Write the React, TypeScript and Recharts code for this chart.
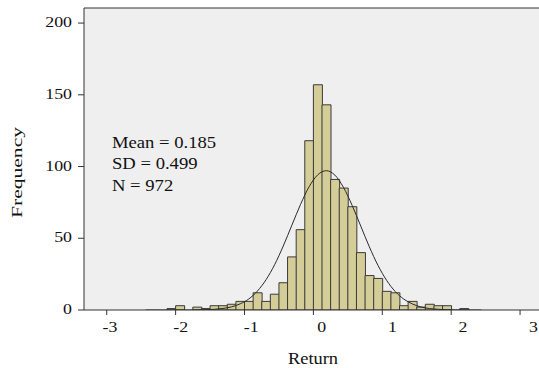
import React from 'react';
import {
  ComposedChart,
  Bar,
  Line,
  XAxis,
  YAxis,
  CartesianGrid,
  ReferenceLine,
  Customized,
} from 'recharts';

// Histogram bins (centres of 0.125-wide bins)
const binCenters = [
  -2.4375, -2.3125, -2.1875, -2.0625, -1.9375, -1.8125, -1.6875, -1.5625,
  -1.4375, -1.3125, -1.1875, -1.0625, -0.9375, -0.8125, -0.6875, -0.5625,
  -0.4375, -0.3125, -0.1875, -0.0625, 0.0625, 0.1875, 0.3125, 0.4375,
  0.5625, 0.6875, 0.8125, 0.9375, 1.0625, 1.1875, 1.3125, 1.4375,
  1.5625, 1.6875, 1.8125, 1.9375, 2.0625, 2.1875, 2.3125, 2.4375,
];

const frequencies = [
  0, 0, 0, 1, 3, 0, 2, 1,
  3, 3, 4, 6, 6, 12, 6, 11,
  19, 37, 56, 118, 157, 143, 91, 85,
  72, 40, 24, 22, 13, 12, 3, 6,
  2, 4, 3, 3, 0, 1, 0, 0,
];

// Fitted normal curve (frequency scale)
const normalCurve = [
  0, 0, 0, 0, 0, 0, 0.1, 0.2,
  0.5, 1.1, 2.2, 4.3, 7.7, 13.2, 21.1, 31.6,
  44.6, 59.1, 73.5, 85.9, 94.2, 97.1, 94.0, 85.4,
  72.9, 58.5, 44.0, 31.1, 20.7, 12.9, 7.6, 4.2,
  2.1, 1.0, 0.5, 0.2, 0.1, 0, 0, 0,
];

const xTicks = [-3, -2, -1, 0, 1, 2, 3];
const yTicks = [0, 50, 100, 150, 200];
const statLines = ['Mean = 0.185', 'SD = 0.499', 'N = 972'];

const data = binCenters.map((x, i) => ({
  x,
  count: frequencies[i],
  curve: normalCurve[i],
}));

const FONT = '"Liberation Serif", "Times New Roman", Times, serif';
const INK = '#111';
const AXIS = '#333';

type STextProps = {
  x: number;
  y: number;
  anchor?: 'start' | 'middle' | 'end';
  size: number;
  sx?: number;
  rotate?: number;
  children: React.ReactNode;
};

function SText({ x, y, anchor = 'start', size, sx = 1.15, rotate = 0, children }: STextProps) {
  return (
    <text
      transform={`translate(${x},${y}) rotate(${rotate}) scale(${sx},1)`}
      textAnchor={anchor}
      fontSize={size}
      fontFamily={FONT}
      fill={INK}
    >
      {children}
    </text>
  );
}

const XTick = (props: any) => {
  const { x, y, payload } = props;
  const v = Number(payload.value);
  const dx = 8.4 + 1.7 * v;
  return (
    <SText x={x + dx} y={y + 15.3} anchor="middle" size={15.5}>
      {String(v)}
    </SText>
  );
};

const YTick = (props: any) => {
  const { x, y, payload } = props;
  return (
    <SText x={x - 4} y={y + 4.2} anchor="end" size={15.5}>
      {String(payload.value)}
    </SText>
  );
};

const XLabel = (props: any) => {
  const vb = props.viewBox || {};
  const cx = (vb.x ?? 84) + (vb.width ?? 455) / 2 + 1.5;
  return (
    <SText x={cx} y={364.3} anchor="middle" size={16}>
      Return
    </SText>
  );
};

const YLabel = () => (
  <text
    transform="translate(22,172.5) rotate(-90)"
    textAnchor="middle"
    fontSize={15.5}
    fontFamily={FONT}
    fill={INK}
    textLength={91}
    lengthAdjust="spacingAndGlyphs"
  >
    Frequency
  </text>
);

const Stats = () => (
  <g>
    {statLines.map((s, i) => (
      <SText key={s} x={112} y={147.5 + i * 21.5} size={16.5} sx={1.13}>
        {s}
      </SText>
    ))}
  </g>
);

export default function App() {
  return (
    <div style={{ position: 'absolute', left: 0, top: 0, background: '#fff' }}>
      <ComposedChart
        width={539}
        height={368}
        data={data}
        margin={{ top: 8, right: 0, bottom: 0, left: 0 }}
        barCategoryGap={0}
        barGap={0}
      >
        <CartesianGrid horizontal={false} vertical={false} fill="#efefef" stroke="none" />
        <XAxis
          dataKey="x"
          type="number"
          domain={[-3.33, 3.275]}
          allowDataOverflow
          ticks={xTicks}
          interval={0}
          height={58}
          tickSize={5}
          tickMargin={2}
          stroke={AXIS}
          tickLine={{ stroke: AXIS }}
          axisLine={{ stroke: AXIS }}
          tick={<XTick />}
          label={<XLabel />}
        />
        <YAxis
          type="number"
          domain={[0, 210.5]}
          allowDataOverflow
          ticks={yTicks}
          interval={0}
          width={84}
          tickSize={6}
          tickMargin={2}
          stroke={AXIS}
          tickLine={{ stroke: AXIS }}
          axisLine={{ stroke: AXIS }}
          tick={<YTick />}
        />
        <ReferenceLine y={210.5} stroke={AXIS} strokeWidth={1} ifOverflow="extendDomain" />
        <Bar
          dataKey="count"
          fill="#d4cd98"
          stroke="#3a3a3a"
          strokeWidth={1}
          isAnimationActive={false}
        />
        <Line
          dataKey="curve"
          type="monotone"
          stroke="#2a2a2a"
          strokeWidth={1}
          dot={false}
          activeDot={false}
          isAnimationActive={false}
        />
        <Customized component={YLabel} />
        <Customized component={Stats} />
      </ComposedChart>
    </div>
  );
}
